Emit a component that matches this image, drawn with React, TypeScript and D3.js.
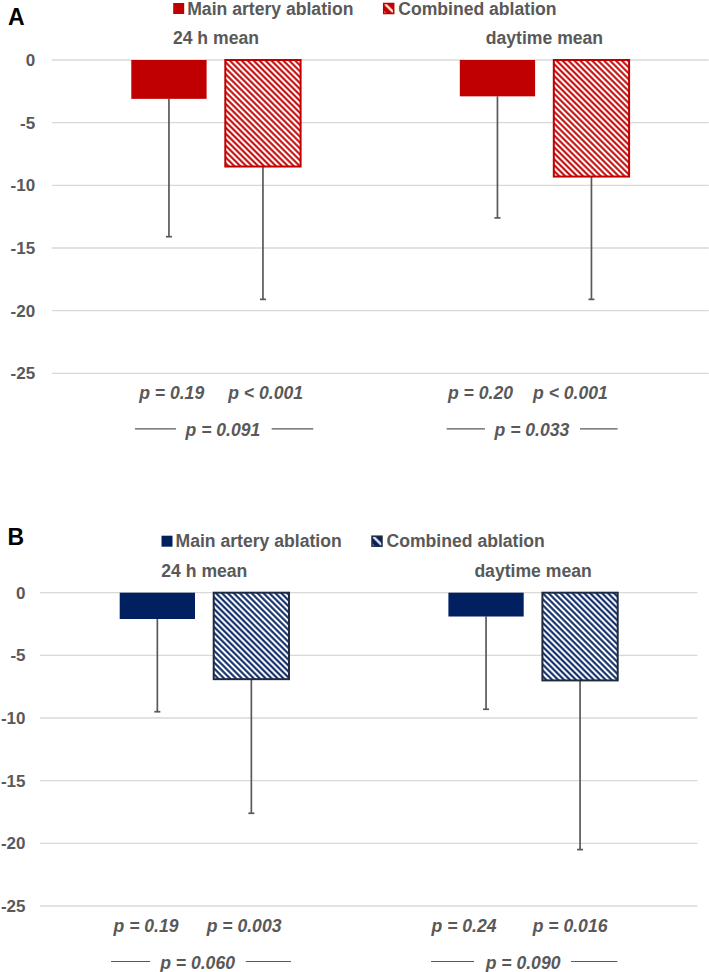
import React from "react";
import * as d3 from "d3";

// ---------- data ----------
const categories = ["24 h mean", "daytime mean"];
const seriesNames = ["Main artery ablation", "Combined ablation"];
const yTicks = [0, -5, -10, -15, -20, -25];

const panelAMain = [-3.1, -2.9];
const panelAMainSD = [11.0, 9.7];
const panelACombined = [-8.5, -9.3];
const panelACombinedSD = [10.6, 9.8];
const panelAPWithin = [
  ["p = 0.19", "p < 0.001"],
  ["p = 0.20", "p < 0.001"],
];
const panelAPBetween = ["p = 0.091", "p = 0.033"];

const panelBMain = [-2.1, -1.9];
const panelBMainSD = [7.4, 7.4];
const panelBCombined = [-6.9, -7.0];
const panelBCombinedSD = [10.7, 13.5];
const panelBPWithin = [
  ["p = 0.19", "p = 0.003"],
  ["p = 0.24", "p = 0.016"],
];
const panelBPBetween = ["p = 0.060", "p = 0.090"];

// ---------- layout ----------
const W = 709;
const H = 972;
const FONT = "'Liberation Sans', Arial, Helvetica, sans-serif";
const GRAY = "#595959";
const FS = 17.6;

// offsets of annotation pieces relative to the category centre
type Ann = { p1: number; p2: number; p3: number; l1: [number, number]; l2: [number, number] };
const annA: Ann[] = [
  { p1: -44.3, p2: 49.7, p3: 7, l1: [-81, -40], l2: [55.7, 97.3] },
  { p1: -64, p2: 26, p3: -12.5, l1: [-97.8, -59.5], l2: [35.5, 73.2] },
];
const annB: Ann[] = [
  { p1: -58.3, p2: 39.7, p3: -6.8, l1: [-93.3, -54.3], l2: [41.4, 86.7] },
  { p1: -69, p2: 37, p3: -10, l1: [-102, -59], l2: [38, 84.3] },
];

type PanelProps = {
  id: string;
  letter: string;
  letterX: number;
  letterY: number;
  zeroY: number;
  plotLeft: number;
  plotRight: number;
  tickGap: number;
  color: string;
  outline: string;
  main: number[];
  mainSD: number[];
  combined: number[];
  combinedSD: number[];
  pWithin: string[][];
  pBetween: string[];
  ann: Ann[];
};

function Panel(p: PanelProps) {
  const y = d3.scaleLinear().domain([0, -25]).range([p.zeroY, p.zeroY + 313.3]);
  const x0 = d3.scaleBand<string>().domain(categories).range([p.plotLeft, p.plotRight]).paddingInner(0).paddingOuter(0);
  const groupW = 169.3;
  const x1 = d3.scaleBand<string>().domain(seriesNames).range([-groupW / 2, groupW / 2]).paddingInner(0.199).paddingOuter(0);
  const bw = x1.bandwidth();
  const center = (c: string) => (x0(c) as number) + x0.bandwidth() / 2;
  const patId = `hatch-${p.id}`;
  const patLegId = `hatchLeg-${p.id}`;

  const series = [
    { name: seriesNames[0], values: p.main, sd: p.mainSD, hatched: false },
    { name: seriesNames[1], values: p.combined, sd: p.combinedSD, hatched: true },
  ];

  const legendBase = p.zeroY - 45.5;
  const row1 = y(-25) + 25.5;
  const row2 = y(-25) + 62.5;

  return (
    <g>
      <defs>
        <pattern id={patId} patternUnits="userSpaceOnUse" width={4.2} height={4.2} patternTransform="rotate(-45)">
          <rect x={0} y={0} width={4.2} height={4.2} fill="#ffffff" />
          <line x1={2.1} y1={-1} x2={2.1} y2={5.2} stroke={p.color} strokeWidth={2} />
        </pattern>
        <pattern id={patLegId} patternUnits="userSpaceOnUse" width={7} height={7} patternTransform="rotate(-45)">
          <rect x={0} y={0} width={7} height={7} fill={p.color} />
          <line x1={3.5} y1={-1} x2={3.5} y2={8} stroke="#ffffff" strokeWidth={2.2} />
        </pattern>
      </defs>

      {/* panel letter */}
      <text x={p.letterX} y={p.letterY} fontFamily={FONT} fontWeight="bold" fontSize={23} fill="#000">
        {p.letter}
      </text>

      {/* legend */}
      <g fontFamily={FONT} fontWeight="bold" fontSize={FS} fill={GRAY}>
        <rect x={p.plotLeft + 121.5} y={legendBase - 11.5} width={11} height={11} fill={p.color} />
        <text x={p.plotLeft + 135.5} y={legendBase}>{seriesNames[0]}</text>
        <rect x={p.plotLeft + 332} y={legendBase - 11} width={10} height={10} fill={`url(#${patLegId})`} stroke={p.outline} strokeWidth={1.5} />
        <text x={p.plotLeft + 346.5} y={legendBase}>{seriesNames[1]}</text>
      </g>

      {/* gridlines */}
      {yTicks.map((t) => (
        <line key={t} x1={p.plotLeft} x2={p.plotRight} y1={y(t)} y2={y(t)} stroke="#d9d9d9" strokeWidth={1.3} />
      ))}
      {/* tick labels */}
      {yTicks.map((t) => (
        <text
          key={"l" + t}
          x={p.plotLeft - p.tickGap}
          y={y(t)}
          dy="0.36em"
          textAnchor="end"
          fontFamily={FONT}
          fontWeight="bold"
          fontSize={17}
          fill={GRAY}
        >
          {t}
        </text>
      ))}

      {/* category labels */}
      {categories.map((c) => (
        <text key={c} x={center(c)} y={p.zeroY - 16} textAnchor="middle" fontFamily={FONT} fontWeight="bold" fontSize={FS} fill={GRAY}>
          {c}
        </text>
      ))}

      {/* error bars (drawn first, bars cover the upper part) */}
      {series.map((s) =>
        categories.map((c, i) => {
          const cx = center(c) + (x1(s.name) as number) + bw / 2;
          const yEnd = y(s.values[i] - s.sd[i]);
          return (
            <g key={s.name + c + "e"} stroke={GRAY} strokeWidth={1.7}>
              <line x1={cx} x2={cx} y1={y(s.values[i])} y2={yEnd} />
              <line x1={cx - 3} x2={cx + 3} y1={yEnd} y2={yEnd} />
            </g>
          );
        })
      )}

      {/* bars */}
      {series.map((s) =>
        categories.map((c, i) => {
          const bx = center(c) + (x1(s.name) as number);
          const top = y(0);
          const h = y(s.values[i]) - y(0);
          return s.hatched ? (
            <rect key={s.name + c} x={bx} y={top} width={bw} height={h} fill={`url(#${patId})`} stroke={p.outline} strokeWidth={2} />
          ) : (
            <rect key={s.name + c} x={bx} y={top} width={bw} height={h} fill={p.color} />
          );
        })
      )}

      {/* p-value annotations */}
      {categories.map((c, i) => {
        const cc = center(c);
        const a = p.ann[i];
        return (
          <g key={"p" + c} fontFamily={FONT} fontWeight="bold" fontStyle="italic" fontSize={FS} fill={GRAY}>
            <text x={cc + a.p1} y={row1} textAnchor="middle">{p.pWithin[i][0]}</text>
            <text x={cc + a.p2} y={row1} textAnchor="middle">{p.pWithin[i][1]}</text>
            <text x={cc + a.p3} y={row2} textAnchor="middle">{p.pBetween[i]}</text>
            <line x1={cc + a.l1[0]} x2={cc + a.l1[1]} y1={row2 - 7} y2={row2 - 7} stroke={GRAY} strokeWidth={1.2} />
            <line x1={cc + a.l2[0]} x2={cc + a.l2[1]} y1={row2 - 7} y2={row2 - 7} stroke={GRAY} strokeWidth={1.2} />
          </g>
        );
      })}
    </g>
  );
}

export default function App() {
  return (
    <svg
      width={W}
      height={H}
      viewBox={`0 0 ${W} ${H}`}
      style={{ position: "absolute", left: 0, top: 0, background: "#fff" }}
    >
      <rect x={0} y={0} width={W} height={H} fill="#fff" />
      <Panel
        id="A"
        letter="A"
        letterX={8}
        letterY={25}
        zeroY={60}
        plotLeft={51.7}
        plotRight={708.7}
        tickGap={16.5}
        color="#c00000"
        outline="#c00000"
        main={panelAMain}
        mainSD={panelAMainSD}
        combined={panelACombined}
        combinedSD={panelACombinedSD}
        pWithin={panelAPWithin}
        pBetween={panelAPBetween}
        ann={annA}
      />
      <Panel
        id="B"
        letter="B"
        letterX={7.5}
        letterY={545}
        zeroY={592.7}
        plotLeft={40}
        plotRight={697.4}
        tickGap={14.5}
        color="#002060"
        outline="#1f2a3f"
        main={panelBMain}
        mainSD={panelBMainSD}
        combined={panelBCombined}
        combinedSD={panelBCombinedSD}
        pWithin={panelBPWithin}
        pBetween={panelBPBetween}
        ann={annB}
      />
    </svg>
  );
}
